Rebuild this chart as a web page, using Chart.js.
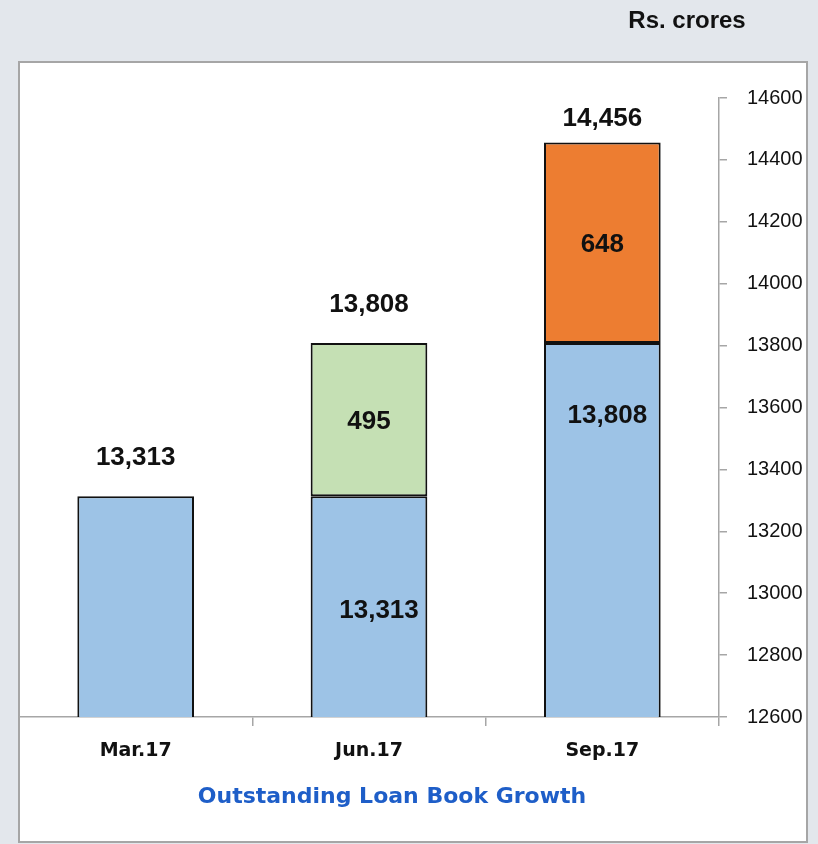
<!DOCTYPE html>
<html>
<head>
<meta charset="utf-8">
<script src="https://cdn.jsdelivr.net/npm/chart.js@4.4.0/dist/chart.umd.min.js"></script>
<style>
  html, body { margin: 0; padding: 0; background: #e3e7ec; }
  #wrap { width: 818px; height: 844px; position: relative; }
</style>
</head>
<body>
<div id="wrap"><canvas id="loanChart" width="818" height="844"></canvas></div>
<script>
// data
var quarters = ['Mar.17', 'Jun.17', 'Sep.17'];
var openingBook = [13313, 13313, 13808];   // blue part
var addedInQuarter = [null, 495, 648];     // green / orange part
var yTicks = [12600, 12800, 13000, 13200, 13400, 13600, 13800, 14000, 14200, 14400, 14600];

var unitText = 'Rs. crores';
var chartTitle = 'Outstanding Loan Book Growth';

// styles
var blue = '#9dc3e6';
var addColors = ['#c5e0b4', '#c5e0b4', '#ed7d31'];
var axisGray = '#a6a6a6';
// where the label inside the blue part sits, relative to the part's centre
var baseLabelShift = [null, [10, 4], [5, -114]];

function fmt(v) {
    return v.toLocaleString('en-US');
}

// frame, outside texts and value labels
var decorPlugin = {
    id: 'decor',
    beforeDraw: function (chart) {
        var ctx = chart.ctx;
        ctx.save();
        ctx.fillStyle = '#e3e7ec';
        ctx.fillRect(0, 0, chart.width, chart.height);
        ctx.fillStyle = '#ffffff';
        ctx.fillRect(19, 62, 788, 780);
        ctx.strokeStyle = axisGray;
        ctx.lineWidth = 2;
        ctx.strokeRect(19, 62, 788, 780);
        ctx.restore();
    },
    afterDraw: function (chart) {
        var ctx = chart.ctx;
        var area = chart.chartArea;
        var yScale = chart.scales.y;
        ctx.save();
        ctx.textAlign = 'center';
        ctx.textBaseline = 'middle';

        ctx.fillStyle = '#111111';
        ctx.font = 'bold 24px "Liberation Sans", Arial, sans-serif';
        ctx.fillText(unitText, 687, 21);

        ctx.fillStyle = '#1e5ec8';
        ctx.font = 'bold 22px "DejaVu Sans", Verdana, sans-serif';
        ctx.fillText(chartTitle, 392, 797);

        var baseMeta = chart.getDatasetMeta(0);
        ctx.fillStyle = '#111111';
        ctx.font = 'bold 26px "Liberation Sans", Arial, sans-serif';
        quarters.forEach(function (q, i) {
            var x = baseMeta.data[i].x;
            var total = openingBook[i] + (addedInQuarter[i] || 0);
            var baseTop = yScale.getPixelForValue(openingBook[i]);
            var top = yScale.getPixelForValue(total);
            ctx.fillText(fmt(total), x, Math.max(top - 38, area.top + 21));
            if (addedInQuarter[i]) {
                ctx.fillText(fmt(addedInQuarter[i]), x, (top + baseTop) / 2 + 2);
                var s = baseLabelShift[i];
                ctx.fillText(fmt(openingBook[i]), x + s[0], (baseTop + area.bottom) / 2 + s[1]);
            }
        });
        ctx.restore();
    }
};

var ctx = document.getElementById('loanChart').getContext('2d');
var loanChart = new Chart(ctx, {
    type: 'bar',
    plugins: [decorPlugin],
    data: {
        labels: quarters,
        datasets: [{
            label: 'Opening',
            data: openingBook,
            backgroundColor: blue,
            borderColor: '#111111',
            borderWidth: 2,
            borderSkipped: false,
            categoryPercentage: 1,
            barPercentage: 0.5
        }, {
            label: 'Added',
            data: addedInQuarter,
            backgroundColor: addColors,
            borderColor: '#111111',
            borderWidth: 2,
            borderSkipped: false,
            categoryPercentage: 1,
            barPercentage: 0.5
        }]
    },
    options: {
        responsive: false,
        animation: false,
        layout: { padding: { left: 19, top: 98, right: 0, bottom: 0 } },
        scales: {
            x: {
                stacked: true,
                grid: {
                    offset: true,
                    drawOnChartArea: false,
                    drawTicks: true,
                    tickLength: 9,
                    color: axisGray,
                    lineWidth: 1.5
                },
                border: { color: axisGray, width: 1.5 },
                ticks: {
                    color: '#111111',
                    padding: 14,
                    font: { family: '"DejaVu Sans", Verdana, sans-serif', size: 19, weight: 'bold' }
                },
                afterFit: function (scale) { scale.height = 127; }
            },
            y: {
                stacked: true,
                position: 'right',
                min: yTicks[0],
                max: yTicks[yTicks.length - 1],
                afterBuildTicks: function (scale) {
                    scale.ticks = yTicks.map(function (v) { return { value: v }; });
                },
                grid: {
                    drawOnChartArea: false,
                    drawTicks: true,
                    tickLength: 8,
                    color: axisGray,
                    lineWidth: 1.5
                },
                border: { color: axisGray, width: 1.5 },
                ticks: {
                    color: '#111111',
                    padding: 20,
                    font: { family: '"Liberation Sans", Arial, sans-serif', size: 20 },
                    callback: function (v) { return String(v); }
                },
                afterFit: function (scale) { scale.width = 99; }
            }
        },
        plugins: {
            legend: { display: false },
            tooltip: { enabled: false }
        }
    }
});
</script>
</body>
</html>
